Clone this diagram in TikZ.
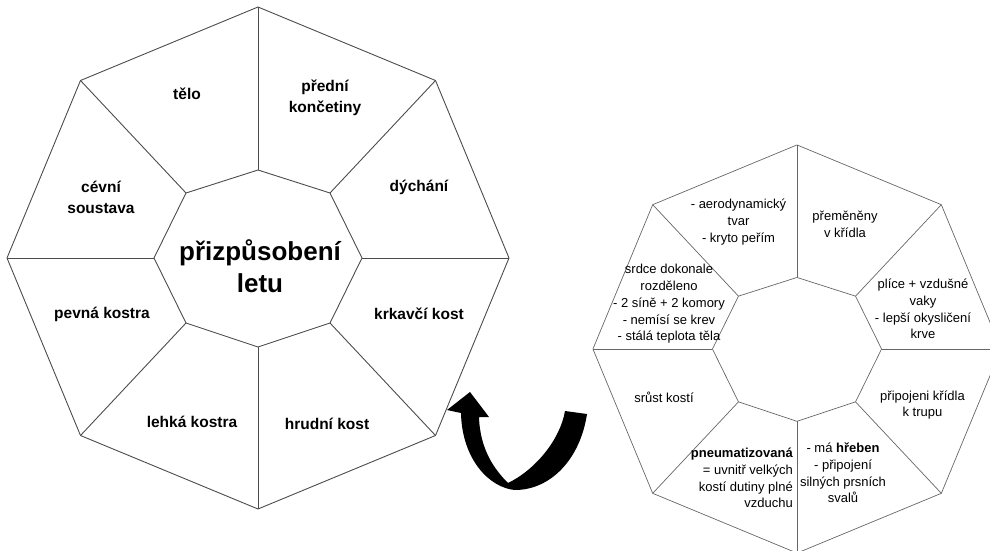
\documentclass[tikz,border=0pt]{standalone}
\usepackage{fontspec}
\setmainfont{Liberation Sans}
\usetikzlibrary{calc}

\tikzset{
	wedge/.style={draw=black!70, line width=0.9pt, line join=round},
	bigtag/.style={font=\bfseries\fontsize{15.5}{21}\selectfont, align=center, inner sep=0pt},
	hubtag/.style={font=\bfseries\fontsize{26}{32}\selectfont, align=center, inner sep=0pt},
	smalltag/.style={font=\fontsize{13}{16.7}\selectfont, align=center, inner sep=0pt}
}

% octagon with inner octagon and spokes, coordinates named #1o1..#1o8, #1i1..#1i8
\newcommand{\flightwheel}[1]{%
	\foreach \ox/\oy/\ix/\iy [count=\n] in {0/-251/0/-88, 177.5/-177.5/72/-65, 251/0/104/0, 177.5/177.5/72/65, 0/251/0/89, -177.5/177.5/-72/65, -251/0/-104/0, -177.5/-177.5/-72/-65}{
		\coordinate (#1o\n) at (\ox,\oy);
		\coordinate (#1i\n) at (\ix,\iy);
	}
	\draw [wedge] (#1o1) \foreach \n in {2,...,8}{-- (#1o\n)} -- cycle;
	\draw [wedge] (#1i1) \foreach \n in {2,...,8}{-- (#1i\n)} -- cycle;
	\foreach \n in {1,...,8} \draw [wedge] (#1i\n) -- (#1o\n);
}

\begin{document}
\begin{tikzpicture}[x=1pt,y=1pt,yscale=-1]
	\useasboundingbox (0,0) rectangle (990,551);
	\clip (0,0) rectangle (990,551);

	%left wheel
	\begin{scope}[shift={(258,258)}]
		\flightwheel{L}
	\end{scope}

	\node [hubtag] (hub) at (260,266) {přizpůsobení\\letu};
	\node [bigtag] (body) at (187,94) {tělo};
	\node [bigtag] (limbs) at (325,98) {přední\\končetiny};
	\node [bigtag] (blood) at (101,197) {cévní\\soustava};
	\node [bigtag] (breath) at (419,187) {dýchání};
	\node [bigtag] (frame) at (102,314) {pevná kostra};
	\node [bigtag] (crow) at (419,314) {krkavčí kost};
	\node [bigtag] (light) at (192,422) {lehká kostra};
	\node [bigtag] (chest) at (327,424) {hrudní kost};

	%right wheel
	\begin{scope}[shift={(797,349)}, scale=0.813, wedge/.append style={draw=black!60, line width=0.7pt}]
		\flightwheel{R}
	\end{scope}

	\node [smalltag] (shape) at (738.5,222) {- aerodynamický\\tvar\\- kryto peřím};
	\node [smalltag] (wings) at (845,224) {přeměněny\\v křídla};
	\node [smalltag] (heart) at (669,304) {srdce dokonale\\rozděleno\\- 2 síně + 2 komory\\- nemísí se krev\\- stálá teplota těla};
	\node [smalltag] (lungs) at (923,309) {plíce + vzdušné\\vaky\\- lepší okysličení\\krve};
	\node [smalltag] (fused) at (664,397) {srůst kostí};
	\node [smalltag] (joint) at (922.5,405) {připojeni křídla\\k trupu};
	\node [smalltag, align=right, anchor=east] (hollow) at (793,478) {\textbf{pneumatizovaná}\\= uvnitř velkých\\kostí dutiny plné\\vzduchu};
	\node [smalltag] (keel) at (843,473) {- má \textbf{hřeben}\\- připojení\\silných prsních\\svalů};

	%curved arrow
	\fill (470,392) -- (489,417) -- (479,417) .. controls (480,450) and (495,470) .. (508,483) .. controls (535,470) and (560,440) .. (565,411) -- (587,414) .. controls (580,460) and (550,490) .. (515,490) .. controls (490,488) and (462,460) .. (461,413) -- (447,410) -- cycle;
\end{tikzpicture}
\end{document}
